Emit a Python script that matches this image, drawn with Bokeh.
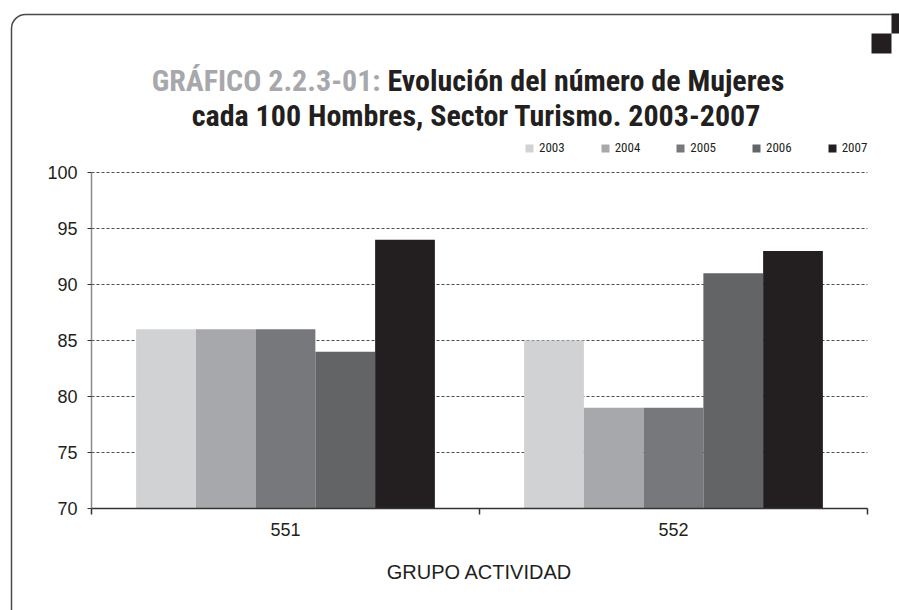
from bokeh.plotting import figure
from bokeh.models import (Range1d, LinearAxis, FixedTicker, BoxAnnotation,
                          ColumnDataSource, Legend, LegendItem, Label, Grid)
from bokeh.transform import dodge
from bokeh.embed import file_html
from bokeh.resources import INLINE

# ---- data ----
grupos = ["551", "552"]
years = ["2003", "2004", "2005", "2006", "2007"]
v2003 = [86, 85]
v2004 = [86, 79]
v2005 = [86, 79]
v2006 = [84, 91]
v2007 = [94, 93]
y_ticks = [70, 75, 80, 85, 90, 95, 100]
colors = ["#d1d2d4", "#a7a8ab", "#77787b", "#636466", "#231f20"]

title_gray = "GRÁFICO 2.2.3-01:"
title_black = "Evolución del número de Mujeres"
title_line2 = "cada 100 Hombres, Sector Turismo. 2003-2007"
x_label = "GRUPO ACTIVIDAD"

pos = [i + 0.5 for i in range(len(grupos))]
src = ColumnDataSource(dict(pos=pos, grupo=grupos, y2003=v2003, y2004=v2004,
                            y2005=v2005, y2006=v2006, y2007=v2007))

FONT = "Liberation Sans"
COND = ("Noto Sans Condensed, Roboto Condensed, DejaVu Sans Condensed, "
        "Liberation Sans Narrow, Roboto, sans-serif")

# ---- layout geometry (pixels on the canvas) ----
W, H = 899, 610
PL, PR, PT, PB = 91, 867, 172, 508          # plot area edges on the canvas
YMIN, YMAX = y_ticks[0], y_ticks[-1]
NX = len(grupos)
kx = (PR - PL) / NX
ky = (PB - PT) / (YMAX - YMIN)
x_start = -PL / kx
x_end = NX + (W - PR) / kx
y_end = YMAX + PT / ky
y_start = YMIN - (H - PB) / ky

def sx(cx):      # canvas px -> data x
    return x_start + cx / kx

def vy(cy):      # canvas px -> data y
    return y_end - cy / ky

p = figure(width=W, height=H,
           x_range=Range1d(x_start, x_end),
           y_range=Range1d(y_start, y_end),
           output_backend="svg", toolbar_location=None,
           x_axis_location=None, y_axis_location=None,
           min_border=0, min_border_left=0, min_border_right=0,
           min_border_top=0, min_border_bottom=0)
p.outline_line_color = None
p.grid.visible = False
p.background_fill_color = "white"
p.border_fill_color = "white"

# gridlines (limited to the plot area)
try:
    grid = Grid(dimension=1, ticker=FixedTicker(ticks=y_ticks), cross_bounds=(0, NX),
                grid_line_color="#4d4d4d", grid_line_dash="3 2", grid_line_width=1)
    p.add_layout(grid)
except Exception:
    p.segment(x0=[0] * len(y_ticks), x1=[NX] * len(y_ticks), y0=y_ticks, y1=y_ticks,
              line_color="#4d4d4d", line_dash="3 2", line_width=1, level="underlay")

# y axis
yax = LinearAxis(fixed_location=0, bounds=(YMIN, YMAX),
                 ticker=FixedTicker(ticks=y_ticks),
                 axis_line_color="#8a8a8a", axis_line_width=1.5,
                 major_tick_out=4, major_tick_in=0, major_tick_line_color="#333333",
                 minor_tick_line_color=None,
                 major_label_text_font=FONT, major_label_text_font_size="18px",
                 major_label_text_color="#231f20", major_label_standoff=10)
p.add_layout(yax, "left")

# x axis: labels at group centres, ticks at group boundaries
xax = LinearAxis(fixed_location=YMIN, bounds=(0, NX),
                 ticker=FixedTicker(ticks=pos, minor_ticks=list(range(NX + 1))),
                 major_label_overrides={pp: g for pp, g in zip(pos, grupos)},
                 axis_line_color="#333333", axis_line_width=1.5,
                 major_tick_line_color=None, major_tick_out=0, major_tick_in=0,
                 minor_tick_line_color="#333333", minor_tick_out=6, minor_tick_in=0,
                 minor_tick_line_width=1.5,
                 major_label_text_font=FONT, major_label_text_font_size="18px",
                 major_label_text_color="#231f20", major_label_standoff=8,
                 axis_label=x_label, axis_label_text_font=FONT,
                 axis_label_text_font_style="normal",
                 axis_label_text_font_size="20px",
                 axis_label_text_color="#231f20", axis_label_standoff=22)
p.add_layout(xax, "below")

# bars
bw = 0.154
items = []
for i, (yr, col) in enumerate(zip(years, colors)):
    off = (i - 2) * bw
    r = p.vbar(x=dodge("pos", off), top="y" + yr, bottom=YMIN,
               width=bw, source=src, fill_color=col, line_color=None)
    items.append(LegendItem(label=yr, renderers=[r]))

legend = Legend(items=items, orientation="horizontal", location=(524, H - 155),
                glyph_width=10, glyph_height=10, label_height=12, label_width=10,
                label_standoff=5, spacing=35, padding=0, margin=0,
                border_line_color=None, background_fill_alpha=0,
                label_text_font=COND, label_text_font_size="13px",
                label_text_color="#231f20", label_text_baseline="middle")
p.add_layout(legend)

# title
TS = "30px"
p.add_layout(Label(x=sx(380), y=vy(80), text=title_gray, text_align="right",
                   text_baseline="alphabetic", text_font=COND, text_font_style="bold",
                   text_font_size=TS, text_color="#a7a8ab"))
p.add_layout(Label(x=sx(387), y=vy(80), text=title_black, text_align="left",
                   text_baseline="alphabetic", text_font=COND, text_font_style="bold",
                   text_font_size=TS, text_color="#231f20"))
p.add_layout(Label(x=sx(476), y=vy(115), text=title_line2, text_align="center",
                   text_baseline="alphabetic", text_font=COND, text_font_style="bold",
                   text_font_size=TS, text_color="#231f20"))

# rounded frame around the chart (right and bottom edges fall outside the canvas)
try:
    frame_box = BoxAnnotation(left=sx(11), right=sx(W + 20), top=vy(14), bottom=vy(H + 20),
                              fill_alpha=0, line_color="#4a4a4a", line_alpha=1,
                              line_width=1.5, border_radius=14)
except Exception:
    frame_box = BoxAnnotation(left=sx(11), right=sx(W + 20), top=vy(14), bottom=vy(H + 20),
                              fill_alpha=0, line_color="#4a4a4a", line_alpha=1,
                              line_width=1.5)
p.add_layout(frame_box)

# corner decoration
p.add_layout(BoxAnnotation(left=sx(871), right=sx(891), top=vy(33), bottom=vy(53),
                           fill_color="#231f20", fill_alpha=1, line_color=None))
p.add_layout(BoxAnnotation(left=sx(891), right=sx(W + 5), top=vy(13), bottom=vy(33),
                           fill_color="#231f20", fill_alpha=1, line_color=None))

open("out.html", "w").write(file_html(p, INLINE))
